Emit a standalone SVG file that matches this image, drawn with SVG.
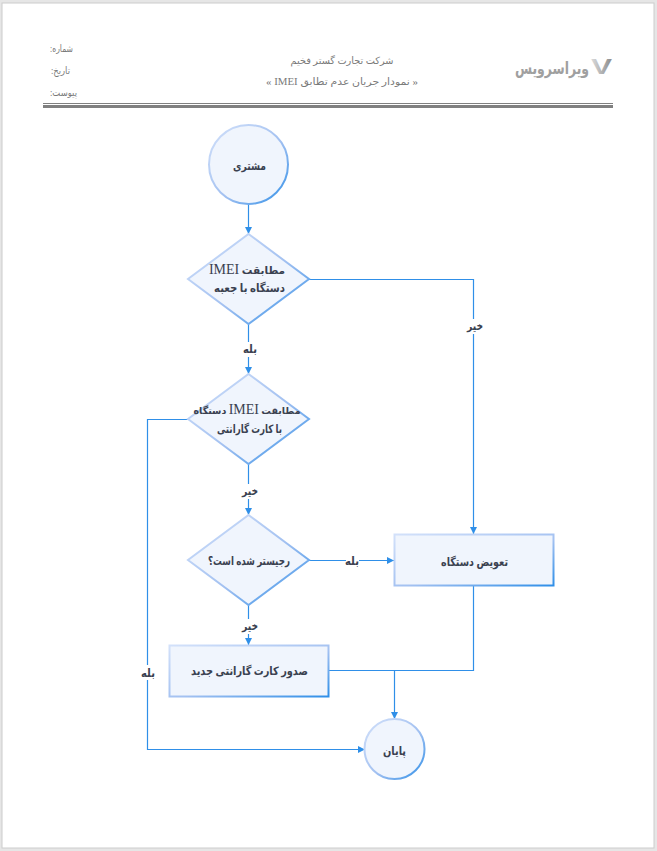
<svg xmlns="http://www.w3.org/2000/svg" width="657" height="851" viewBox="0 0 657 851">
<style>
text{font-family:"Liberation Serif","DejaVu Sans",sans-serif;text-anchor:middle;direction:rtl}
.h{font-size:10px;fill:#7a7a7a}
.n{font-size:11.500px;font-weight:bold;fill:#3a4150}
.l{font-size:11.500px;font-weight:bold;fill:#3a4150}
.m{font-size:10.500px;font-weight:bold;fill:#3a4150}
.i{font-weight:normal;font-size:14px}
.s{fill:#f0f5fd;stroke:url(#g);stroke-width:2}
.c{fill:none;stroke:#2f8fe8;stroke-width:1.200;marker-end:url(#a)}
.p{fill:none;stroke:#2f8fe8;stroke-width:1.200}
.b{fill:#fff}
</style>
<defs>
<linearGradient id="g" x1="0" y1="0" x2="1" y2="1"><stop offset="0" stop-color="#d3e1fa"/><stop offset="0.55" stop-color="#a3c1f1"/><stop offset="1" stop-color="#2f8fe8"/></linearGradient>
<linearGradient id="v" x1="0" y1="0" x2="1" y2="0"><stop offset="0" stop-color="#dcdcdc"/><stop offset="1" stop-color="#8a8a8a"/></linearGradient>
<marker id="a" markerUnits="userSpaceOnUse" markerWidth="8" markerHeight="8" refX="7" refY="4" orient="auto"><path d="M0 0.500L7 4L0 7.500Z" fill="#2f8fe8"/></marker>
</defs>
<rect width="657" height="851" fill="#e6e6e6"/>
<rect x="2" y="3" width="652" height="845" fill="#fff" stroke="#cccccc" stroke-width="1"/>
<g id="header">
<rect x="43" y="103" width="570" height="1" fill="#808080"/>
<rect x="43" y="105" width="570" height="3" fill="#808080"/>
<text class="h" x="61.500" y="52" textLength="23" lengthAdjust="spacingAndGlyphs">شماره:</text>
<text class="h" x="60.500" y="74" textLength="19" lengthAdjust="spacingAndGlyphs">تاریخ:</text>
<text class="h" x="63.500" y="96" textLength="27" lengthAdjust="spacingAndGlyphs">پیوست:</text>
<text class="h" x="342" y="64" textLength="103" lengthAdjust="spacingAndGlyphs">شرکت تجارت گستر فخیم</text>
<text class="h" x="342" y="85" textLength="152" lengthAdjust="spacingAndGlyphs">« نمودار جریان عدم تطابق IMEI »</text>
<g id="logo"><text transform="translate(552 74) scale(.73 1)" style="font-size:17px;font-weight:bold;fill:#a0a0a0;font-family:'DejaVu Sans',sans-serif">ویراسرویس</text>
<text x="601.500" y="74" textLength="21" lengthAdjust="spacingAndGlyphs" style="font-size:22px;font-weight:bold;fill:url(#v);font-family:'Liberation Sans',sans-serif;direction:ltr">V</text></g>
</g>
<g id="connectors">
<path class="c" d="M248.500 205V234"/>
<path class="c" d="M309 279.500H473.500V534"/>
<path class="c" d="M248.500 324V374"/>
<path class="c" d="M188 419.500H147.500V749.500H365"/>
<path class="c" d="M248.500 464V515"/>
<path class="c" d="M309 560.500H394"/>
<path class="c" d="M248.500 605V645"/>
<path class="p" d="M329 670.500H473.500V586"/>
<path class="c" d="M394.500 670V719"/>
</g>
<g id="labels">
<rect class="b" x="240" y="342" width="18" height="15"/><text class="l" x="250" y="353" textLength="14" lengthAdjust="spacingAndGlyphs">بله</text>
<rect class="b" x="464" y="319" width="20" height="15"/><text class="l" x="475" y="330" textLength="16" lengthAdjust="spacingAndGlyphs">خیر</text>
<rect class="b" x="240" y="484" width="18" height="15"/><text class="l" x="250" y="495" textLength="16" lengthAdjust="spacingAndGlyphs">خیر</text>
<rect class="b" x="346" y="553" width="13" height="15"/><text class="l" x="352" y="565" textLength="14" lengthAdjust="spacingAndGlyphs">بله</text>
<rect class="b" x="240" y="619" width="18" height="15"/><text class="l" x="250" y="630" textLength="16" lengthAdjust="spacingAndGlyphs">خیر</text>
<rect class="b" x="139" y="665" width="18" height="15"/><text class="l" x="148" y="677" textLength="14" lengthAdjust="spacingAndGlyphs">بله</text>
</g>
<g id="start"><circle class="s" cx="248.500" cy="164.500" r="39.500"/><text class="n" x="249.500" y="170" textLength="33" lengthAdjust="spacingAndGlyphs">مشتری</text></g>
<g id="d1"><path class="s" d="M248.500 234L309 279L248.500 324L188 279Z"/><text class="m" x="247" y="274">مطابقت  <tspan class="i">IMEI</tspan></text><text class="n" x="249.500" y="292" textLength="71" lengthAdjust="spacingAndGlyphs">دستگاه با جعبه</text></g>
<g id="d2"><path class="s" d="M248.500 374L309 419L248.500 464L188 419Z"/><text class="m" x="247" y="414" style="font-size:9.500px">مطابقت  <tspan class="i">IMEI</tspan> دستگاه</text><text class="n" x="249.500" y="433" textLength="65" lengthAdjust="spacingAndGlyphs">با کارت گارانتی</text></g>
<g id="d3"><path class="s" d="M248.500 515L309 560L248.500 605L188 560Z"/><text class="n" x="249" y="565" textLength="82" lengthAdjust="spacingAndGlyphs">رجیستر شده است؟</text></g>
<g id="r1"><rect class="s" x="394.500" y="534.500" width="159" height="51"/><text class="n" x="474.500" y="566" textLength="67" lengthAdjust="spacingAndGlyphs">تعویض دستگاه</text></g>
<g id="r2"><rect class="s" x="169.500" y="645.500" width="159" height="51"/><text class="n" x="249.500" y="675" textLength="117" lengthAdjust="spacingAndGlyphs">صدور کارت گارانتی جدید</text></g>
<g id="end"><circle class="s" cx="394.500" cy="749" r="30"/><text class="n" x="394.500" y="755" textLength="23" lengthAdjust="spacingAndGlyphs">پایان</text></g>
</svg>
